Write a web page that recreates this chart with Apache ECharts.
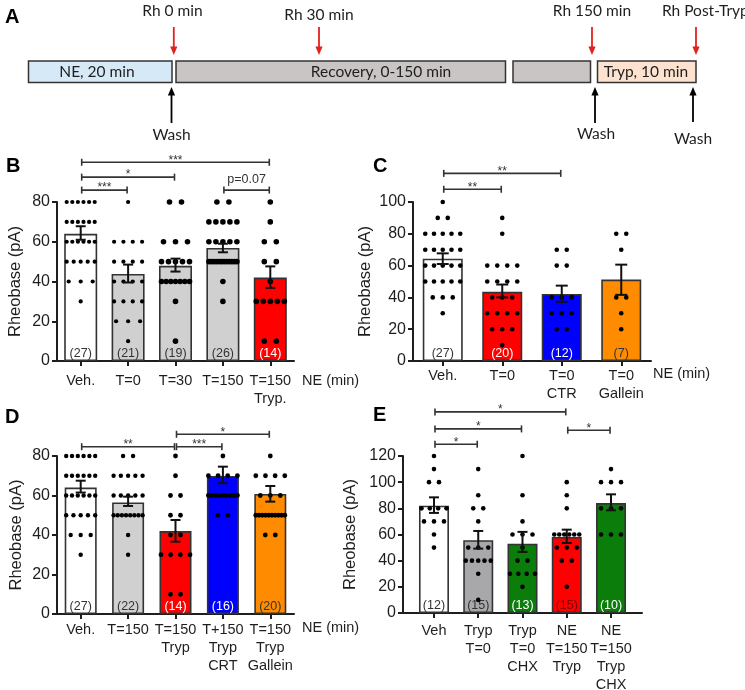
<!DOCTYPE html>
<html><head><meta charset="utf-8">
<script src="https://cdn.jsdelivr.net/npm/echarts@6/dist/echarts.min.js"></script>
<style>html,body{margin:0;padding:0;background:#fff}#c{width:745px;height:690px}</style>
</head><body><div id="c"></div>
<script>
// ===== Panel B =====
const catsB = ['Veh.', 'T=0', 'T=30', 'T=150', 'T=150\nTryp.'];
const meanB = [64, 43.8, 47.9, 56.9, 42];
const semLoB = [61, 39.5, 45, 54.7, 36.8];
const semHiB = [67.8, 48.5, 51.5, 59, 47.6];
const nB = ['(27)', '(21)', '(19)', '(26)', '(14)'];
const dotsB = [
  [80,80,80,80,80,80,70,70,70,70,70,70,60,60,60,60,60,60,50,50,50,50,50,40,40,40,30],
  [80,60,60,60,60,50,50,50,50,40,40,40,40,30,30,30,30,20,20,20,10],
  [80,80,60,60,60,50,50,50,50,50,40,40,40,40,40,40,40,30,10],
  [80,80,70,70,70,70,70,60,60,60,60,60,50,50,50,50,50,50,50,50,50,50,50,50,40,30],
  [80,70,60,60,50,50,40,30,30,30,30,30,10,10]
];
const sigB = [[0,4,100,'***'],[0,2,92.5,'*'],[0,1,86,'***'],[3,4,86,'p=0.07']];

// ===== Panel C =====
const catsC = ['Veh.', 'T=0', 'T=0\nCTR', 'T=0\nGallein'];
const meanC = [64.3, 43.5, 42.2, 51.2];
const semLoC = [61, 40, 37.2, 41.6];
const semHiC = [67.7, 48.1, 47.4, 60.6];
const nC = ['(27)', '(20)', '(12)', '(7)'];
const dotsC = [
  [100,90,90,80,80,80,80,80,70,70,70,70,70,60,60,60,60,60,50,50,50,50,50,40,40,40,30],
  [90,80,60,60,60,60,50,50,50,50,40,40,40,30,30,30,30,20,20,20,10],
  [70,70,60,60,40,40,40,30,30,30,20,20],
  [80,80,70,40,40,30,20]
];
const sigC = [[0,2,118,'**'],[0,1,108,'**']];

// ===== Panel D =====
const catsD = ['Veh.', 'T=150', 'T=150\nTryp', 'T+150\nTryp\nCRT', 'T=150\nTryp\nGallein'];
const meanD = [64, 56.5, 42, 69.9, 60.8];
const semLoD = [61.5, 54.7, 36.6, 66.2, 56.9];
const semHiD = [67.5, 59.4, 47.6, 74.6, 64.8];
const nD = ['(27)', '(22)', '(14)', '(16)', '(20)'];
const dotsD = [
  [80,80,80,80,80,80,70,70,70,70,70,70,60,60,60,60,60,60,50,50,50,50,50,40,40,40,30],
  [80,80,70,70,70,70,70,60,60,60,60,60,50,50,50,50,50,50,50,50,40,30],
  [80,70,60,60,50,50,40,40,30,30,30,30,10,10],
  [80,70,70,70,70,60,60,60,60,60,60,60,60,60,50,50],
  [80,70,70,70,70,60,60,60,50,50,50,50,50,50,50,50,50,50,40,40]
];
const sigD = [[0,2,84.7,'**'],[2,3,84.7,'***'],[2,4,91,'*']];

// ===== Panel E =====
const catsE = ['Veh', 'Tryp\nT=0', 'Tryp\nT=0\nCHX', 'NE\nT=150\nTryp', 'NE\nT=150\nTryp\nCHX'];
const meanE = [82, 55.6, 53, 58.1, 84];
const semLoE = [76.5, 49.2, 46.7, 53.5, 78.5];
const semHiE = [88.4, 62.7, 62, 63.7, 90.7];
const nE = ['(12)', '(15)', '(13)', '(15)', '(10)'];
const dotsE = [
  [120,110,100,100,80,80,80,80,70,70,70,60,50],
  [110,90,80,80,70,50,50,50,40,40,40,40,40,30,10],
  [120,90,70,60,60,60,50,40,40,30,30,30,30,20],
  [100,90,80,60,60,60,60,60,60,50,50,50,40,40,20],
  [110,100,100,100,80,80,80,60,60,60]
];
const sigE = [[0,3,153.7,'*'],[0,2,140.7,'*'],[0,1,129,'*'],[3,4,139.7,'*']];

// ===== styles / layout =====
const INK = '#1e1e1e';
const FONT = '"Liberation Sans", Arial, Helvetica, sans-serif';
const AFONT = 'Lato, "Open Sans", sans-serif';
const panels = [
  { cats: catsB, mean: meanB, lo: semLoB, hi: semHiB, n: nB, dots: dotsB, sig: sigB,
    fill: ['#ffffff','#d0d0d0','#d0d0d0','#d0d0d0','#ff0000'],
    nCol: ['#333','#333','#333','#333','#ffffff'],
    dotSize: [4.2,4.2,5.6,5.6,5.6],
    ymax: 80, grid: {left: 57, top: 202, width: 237, height: 159}, xmin: -0.5, xmax: 4.5,
    barW: 33, maxSp: 12, maxSpan: 28, capW: 10, lblMargin: 11, nameGap: 33, neX: 302, neY: 381 },
  { cats: catsC, mean: meanC, lo: semLoC, hi: semHiC, n: nC, dots: dotsC, sig: sigC,
    fill: ['#ffffff','#ff0000','#0000ff','#ff8c00'],
    nCol: ['#333','#ffffff','#ffffff','#333'],
    dotSize: [4.6,4.6,4.6,4.6],
    ymax: 100, grid: {left: 413, top: 202, width: 238, height: 159}, xmin: -0.5, xmax: 3.5,
    barW: 40, maxSp: 10, maxSpan: 35, capW: 12, lblMargin: 6, nameGap: 39, neX: 653, neY: 374 },
  { cats: catsD, mean: meanD, lo: semLoD, hi: semHiD, n: nD, dots: dotsD, sig: sigD,
    fill: ['#ffffff','#d0d0d0','#ff0000','#0000ff','#ff8c00'],
    nCol: ['#333','#333','#ffffff','#ffffff','#333'],
    dotSize: [4.4,4.4,4.8,4.8,4.8],
    ymax: 80, grid: {left: 57, top: 456, width: 237, height: 158}, xmin: -0.5, xmax: 4.5,
    barW: 32, maxSp: 10, maxSpan: 29, capW: 10, lblMargin: 7, nameGap: 32, neX: 302, neY: 628 },
  { cats: catsE, mean: meanE, lo: semLoE, hi: semHiE, n: nE, dots: dotsE, sig: sigE,
    fill: ['#ffffff','#a8a8ab','#0a7d0a','#ff0000','#0a7d0a'],
    nCol: ['#333','#333','#ffffff','#7a0000','#ffffff'],
    dotSize: [4.6,4.6,4.6,4.6,4.6],
    ymax: 120, grid: {left: 403, top: 456, width: 239, height: 157}, xmin: -0.7, xmax: 4.7,
    barW: 30, maxSp: 10, maxSpan: 25, capW: 10, lblMargin: 9, nameGap: 44, neX: null, neY: null }
];

function dotData(groups, pxPerUnit, maxSp, maxSpan) {
  const out = [];
  groups.forEach((vals, i) => {
    const counts = {};
    vals.forEach(v => { counts[v] = (counts[v] || 0) + 1; });
    Object.keys(counts).forEach(k => {
      const c = counts[k];
      const sp = c > 1 ? Math.min(maxSp, maxSpan / (c - 1)) : 0;
      for (let j = 0; j < c; j++) out.push([i + (j - (c - 1) / 2) * sp / pxPerUnit, +k, i]);
    });
  });
  return out;
}

const grids = [], xAxes = [], yAxes = [], series = [];
panels.forEach((p, pi) => {
  grids.push(Object.assign({containLabel: false, outerBoundsMode: 'none'}, p.grid));
  const idx = p.cats.map((c, i) => i);
  xAxes.push({
    type: 'value', gridIndex: pi, min: p.xmin, max: p.xmax,
    axisLine: {show: true, onZero: false, lineStyle: {color: INK, width: 2}},
    axisTick: {show: true, customValues: idx, length: 5, lineStyle: {color: INK, width: 2}},
    axisLabel: {show: true, customValues: idx, formatter: v => p.cats[Math.round(v)],
      margin: p.lblMargin, fontSize: 14.5, lineHeight: 18, color: INK, fontFamily: FONT},
    splitLine: {show: false}
  });
  yAxes.push({
    type: 'value', gridIndex: pi, min: 0, max: p.ymax, interval: 20,
    name: 'Rheobase (pA)', nameLocation: 'middle', nameGap: p.nameGap,
    nameTextStyle: {fontSize: 16.5, color: INK, fontFamily: FONT},
    axisLine: {show: true, onZero: false, lineStyle: {color: INK, width: 2}},
    axisTick: {show: true, length: 5, lineStyle: {color: INK, width: 2}},
    axisLabel: {fontSize: 16, color: INK, margin: 7, fontFamily: FONT},
    splitLine: {show: false}
  });
  series.push({
    type: 'bar', xAxisIndex: pi, yAxisIndex: pi, barWidth: p.barW, z: 2,
    data: p.mean.map((m, i) => ({
      value: [i, m],
      itemStyle: {color: p.fill[i], borderColor: '#333', borderWidth: 1.6},
      label: {show: true, position: 'insideBottom', distance: 1, formatter: p.n[i],
        color: p.nCol[i], fontSize: 12.5, fontFamily: FONT}
    })),
    animation: false
  });
  const ppu = p.grid.width / (p.xmax - p.xmin);
  series.push({
    type: 'scatter', xAxisIndex: pi, yAxisIndex: pi, z: 3,
    symbolSize: v => p.dotSize[v[2]],
    itemStyle: {color: '#000', opacity: 1},
    data: dotData(p.dots, ppu, p.maxSp, p.maxSpan),
    animation: false, silent: true
  });
  series.push({
    type: 'custom', xAxisIndex: pi, yAxisIndex: pi, z: 4,
    encode: {x: 0, y: [1, 2]},
    data: p.mean.map((m, i) => [i, p.lo[i], p.hi[i]]),
    renderItem: (params, api) => {
      const x = api.value(0);
      const a = api.coord([x, api.value(2)]), b = api.coord([x, api.value(1)]);
      const w = p.capW / 2, st = {stroke: '#111', lineWidth: 2};
      return {type: 'group', children: [
        {type: 'line', shape: {x1: a[0], y1: a[1], x2: b[0], y2: b[1]}, style: st},
        {type: 'line', shape: {x1: a[0] - w, y1: a[1], x2: a[0] + w, y2: a[1]}, style: st},
        {type: 'line', shape: {x1: b[0] - w, y1: b[1], x2: b[0] + w, y2: b[1]}, style: st}
      ]};
    },
    animation: false, silent: true
  });
  series.push({
    type: 'custom', xAxisIndex: pi, yAxisIndex: pi, z: 5, clip: false,
    encode: {x: [0, 1], y: 2},
    data: p.sig.map(s => [s[0], s[1], s[2]]),
    renderItem: (params, api) => {
      const s = p.sig[params.dataIndex];
      const a = api.coord([api.value(0), api.value(2)]), b = api.coord([api.value(1), api.value(2)]);
      const x1 = a[0] + 1, x2 = b[0] - 1, y = a[1];
      const st = {stroke: '#333', lineWidth: 1.6};
      const isStar = s[3].indexOf('*') >= 0;
      return {type: 'group', children: [
        {type: 'line', shape: {x1: x1, y1: y, x2: x2, y2: y}, style: st},
        {type: 'line', shape: {x1: x1, y1: y - 3.5, x2: x1, y2: y + 3.5}, style: st},
        {type: 'line', shape: {x1: x2, y1: y - 3.5, x2: x2, y2: y + 3.5}, style: st},
        {type: 'text', x: (x1 + x2) / 2, y: isStar ? y - 2 : y - 11,
          style: {text: s[3], fill: '#333', font: (isStar ? '12px ' : '12.5px ') + FONT,
            textAlign: 'center', textVerticalAlign: 'middle'}}
      ]};
    },
    animation: false, silent: true
  });
});

// ===== Panel A diagram & labels (graphic) =====
const RED = '#e3211c';
const gfx = [];
function txt(x, y, s, font, opts) {
  gfx.push(Object.assign({type: 'text', x: x, y: y, silent: true,
    style: Object.assign({text: s, fill: INK, font: font, textAlign: 'center', textVerticalAlign: 'middle'}, opts || {})}));
}
function arrow(x, y1, y2, color) { // tail y1 -> tip y2
  const dir = y2 > y1 ? 1 : -1;
  gfx.push({type: 'line', shape: {x1: x, y1: y1, x2: x, y2: y2 - dir * 6}, style: {stroke: color, lineWidth: 1.8}, silent: true});
  gfx.push({type: 'polygon', shape: {points: [[x, y2], [x - 3.6, y2 - dir * 8.5], [x + 3.6, y2 - dir * 8.5]]}, style: {fill: color}, silent: true});
}
function box(x1, x2, fill) {
  gfx.push({type: 'rect', shape: {x: x1, y: 61, width: x2 - x1, height: 21.5}, style: {fill: fill, stroke: '#333', lineWidth: 1.5}, silent: true});
}
box(28.5, 172, '#d6e9f6');
box(176, 505.5, '#c9c5c4');
box(513, 590.5, '#c9c5c4');
box(597.5, 696, '#fde3cf');
const AF = '15.5px ' + AFONT;
txt(97, 72, 'NE, 20 min', AF);
txt(381, 72, 'Recovery, 0-150 min', AF);
txt(646, 72, 'Tryp, 10 min', AF);
txt(172.5, 11, 'Rh 0 min', AF);
txt(319, 14.5, 'Rh 30 min', AF);
txt(592, 10.5, 'Rh 150 min', AF);
txt(662, 11, 'Rh Post-Tryp', AF, {textAlign: 'left'});
arrow(173.8, 27, 55, RED);
arrow(319, 27, 55, RED);
arrow(592, 27, 55, RED);
arrow(696, 27, 55, RED);
arrow(171.5, 123, 87, '#000');
arrow(595, 123, 87, '#000');
arrow(693, 122, 87, '#000');
txt(171.5, 135, 'Wash', AF);
txt(596, 133.5, 'Wash', AF);
txt(693, 138.5, 'Wash', AF);
const LF = 'bold 20px ' + FONT;
[['A', 5, 17], ['B', 6, 166], ['C', 373, 166], ['D', 5, 417], ['E', 373, 415]].forEach(l => {
  gfx.push({type: 'text', x: l[1], y: l[2], silent: true, style: {text: l[0], font: LF, fill: '#000', textAlign: 'left', textVerticalAlign: 'middle'}});
});
panels.forEach(p => { if (p.neX !== null) txt(p.neX, p.neY, 'NE (min)', '14.5px ' + FONT, {textAlign: 'left'}); });

const chart = echarts.init(document.getElementById('c'));
chart.setOption({
  animation: false,
  backgroundColor: '#ffffff',
  textStyle: {fontFamily: FONT},
  grid: grids, xAxis: xAxes, yAxis: yAxes, series: series,
  graphic: gfx
});
</script>
</body></html>
